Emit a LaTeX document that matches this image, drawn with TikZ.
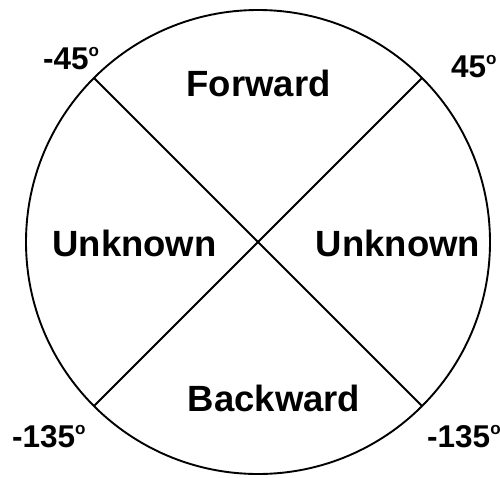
\documentclass[tikz,border=0pt]{standalone}
\usepackage{fontspec}
\setmainfont{Liberation Sans}
\usepackage{tikz}
\usetikzlibrary{positioning}
\definecolor{ink}{HTML}{000000}
\newcommand{\degmark}{\raisebox{0.4em}{\fontsize{17}{17}\selectfont o}}

\begin{document}
\begin{tikzpicture}[x=1pt,y=-1pt,font=\bfseries,
    sector/.style={font=\fontsize{36.5}{40}\selectfont\bfseries,color=ink,inner sep=0pt},
    angle/.style={font=\fontsize{31.5}{34}\selectfont\bfseries,color=ink,inner sep=0pt,anchor=base west}]
  \useasboundingbox (0,0) rectangle (500,477);
  \node[draw=ink,line width=1.9pt,circle,minimum size=464pt,inner sep=0pt,outer sep=0pt] (dial) at (258,242) {};
  \draw[ink,line width=1.9pt] (dial.135) -- (dial.-45);
  \draw[ink,line width=1.9pt] (dial.45) -- (dial.-135);

  \node[sector] (fwd) at (258.5,83.5) {Forward};
  \node[sector] (bwd) at (274,398) {Backward};
  \node[sector] (unkleft) at (134.5,243) {Unknown};
  \node[sector] (unkright) at (398,243) {Unknown};

  \node[angle] (ul) at (43,69) {-45\degmark};
  \node[angle] (ur) at (451,77) {45\degmark};
  \node[angle] (ll) at (12,447) {-135\degmark};
  \node[angle] (lr) at (427,447) {-135\degmark};
\end{tikzpicture}
\end{document}
